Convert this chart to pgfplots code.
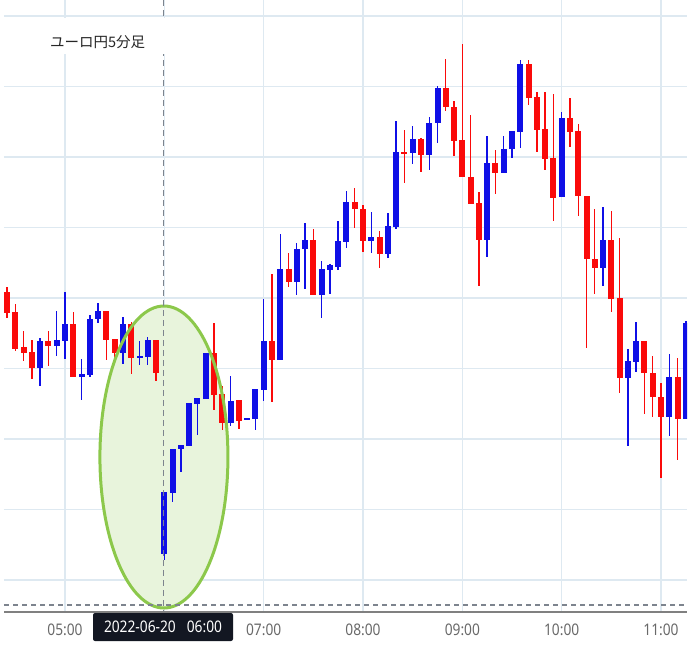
\documentclass[border=0pt]{standalone}
\usepackage{pgfplots}
\pgfplotsset{compat=1.18}
\usepackage{pgfplotstable}
\usepackage{fontspec}
\setmainfont{Noto Sans}
\newfontfamily\jpfont{Noto Sans CJK JP}
\newfontfamily\tickfont[FakeStretch=0.86]{Noto Sans}
\definecolor{cred}{RGB}{250,10,10}
\definecolor{cblue}{RGB}{15,15,230}
\definecolor{gridc}{RGB}{222,233,241}
\definecolor{ellfill}{RGB}{232,244,220}
\definecolor{ellline}{RGB}{140,200,75}
\definecolor{dashc}{RGB}{125,132,142}
\definecolor{axisc}{RGB}{128,128,128}
\definecolor{tickc}{RGB}{105,105,105}
\definecolor{datebg}{RGB}{19,23,34}

% candle index (0 = 05:00, 5-minute steps), values read in picture units (smaller = higher price)
\pgfplotstableread{
x o h l c
-3 368 338 386 341
-1 346 311 356 340
0 341 292 359 324
2 377 359 400 374
3 375 315 377 319
4 319 303 323 311
7 353 317 364 324
9 358 341 365 356
10 357 337 365 340
12 554 492 560 492
13 493 449 502 449
14 449 445 472 445
15 446 403 446 403
16 404 398 435 398
17 399 353 399 353
20 423 376 426 401
22 420 418 420 418
23 419 389 430 389
24 390 299 401 341
26 360 234 360 269
28 282 243 295 249
29 249 223 289 240
31 295 261 318 269
32 270 264 294 265
33 267 221 270 241
34 242 191 248 202
37 241 212 253 237
39 254 213 258 226
40 227 121 229 152
42 153 126 164 139
44 155 117 170 123
45 123 86 143 88
51 240 136 257 163
53 173 136 173 149
54 149 131 158 131
55 132 60 148 64
60 197 112 197 118
65 268 207 286 240
68 378 349 446 361
69 362 322 372 341
73 417 354 436 377
75 419 321 419 323
}\upcandles

\pgfplotstableread{
x o h l c
-7 292 287 318 313
-6 312 304 351 349
-5 347 331 361 353
-4 352 340 379 368
-2 341 331 366 346
1 324 312 377 377
5 311 311 360 340
6 339 339 360 353
8 324 322 374 358
11 340 340 381 373
18 353 323 410 395
19 394 386 430 423
21 400 400 429 421
25 341 274 402 360
27 269 253 287 282
30 240 229 295 295
35 202 188 228 209
36 209 205 252 241
38 237 231 268 254
41 151.5 130 183 153.5
43 139 138 172 155
46 88 59 111 107
47 107 101 156 141
48 140 44 177 177
49 177 115 204 204
50 203 192 286 240
52 163 150 194 173
56 64 60 105 98
57 97 92 152 130
58 129 92 170 159
59 158 94 221 198
61 118 98 147 132
62 131 124 216 196
63 196 196 348 259
64 259 209 294 268
66 240 211 312 299
67 298 238 393 378
70 341 341 414 373
71 373 356 417 397
72 397 383 478 417
74 377 358 460 419
}\downcandles

\begin{document}
\begin{tikzpicture}
\useasboundingbox (0pt,0pt) rectangle (700pt,646pt);
\begin{axis}[
  at={(4pt,34pt)}, anchor=south west,
  scale only axis, width=683pt, height=612pt,
  xmin=-7.37, xmax=75.14, ymin=0, ymax=612,
  y dir=reverse,
  axis line style={draw=none},
  xtick={0,12,24,36,48,60,72},
  xticklabels={05:00,{},07:00,08:00,09:00,10:00,11:00},
  ytick={16,86.5,157,227.5,298,368.5,439,509.5,580},
  yticklabel=\empty,
  major tick length=0pt,
  grid=major,
  major grid style={gridc, line width=1.1pt},
  xticklabel style={font=\tickfont\fontsize{16}{16}\selectfont, text=tickc, anchor=center, yshift=-18pt},
]
\fill[ellfill] (axis cs:11.95,457) ellipse [x radius=64pt, y radius=151pt];
% wicks
\addplot[draw=none, mark=none, forget plot,
  error bars/.cd, y dir=both, y explicit, error mark=none,
  error bar style={draw=cred, line width=1.4pt}]
  table[x=x, y expr={(\thisrow{h}+\thisrow{l})/2}, y error expr={(\thisrow{l}-\thisrow{h})/2}] {\downcandles};
\addplot[draw=none, mark=none, forget plot,
  error bars/.cd, y dir=both, y explicit, error mark=none,
  error bar style={draw=cblue, line width=1.4pt}]
  table[x=x, y expr={(\thisrow{h}+\thisrow{l})/2}, y error expr={(\thisrow{l}-\thisrow{h})/2}] {\upcandles};
% bodies
\addplot[draw=none, mark=none, forget plot,
  error bars/.cd, y dir=both, y explicit, error mark=none,
  error bar style={draw=cred, line width=6pt}]
  table[x=x, y expr={(\thisrow{o}+\thisrow{c})/2}, y error expr={abs(\thisrow{c}-\thisrow{o})/2}] {\downcandles};
\addplot[draw=none, mark=none, forget plot,
  error bars/.cd, y dir=both, y explicit, error mark=none,
  error bar style={draw=cblue, line width=6pt}]
  table[x=x, y expr={(\thisrow{o}+\thisrow{c})/2}, y error expr={abs(\thisrow{c}-\thisrow{o})/2}] {\upcandles};
\draw[ellline, line width=3pt] (axis cs:11.95,457) ellipse [x radius=64pt, y radius=151pt];
\draw[dashc, line width=1.2pt, dash pattern=on 6pt off 4pt] (axis cs:11.9,0) -- (axis cs:11.9,612);
\draw[dashc, line width=1.2pt, dash pattern=on 5pt off 4pt] (axis cs:-7.37,605) -- (axis cs:75.14,605);
\end{axis}
\draw[axisc, line width=2pt] (4pt,34pt) -- (687pt,34pt);
\fill[white] (42pt,592pt) rectangle (172pt,628pt);
\node[anchor=west, inner sep=0pt, text=black!85] at (50pt,604pt) {\jpfont\fontsize{14.5}{15}\selectfont ユーロ円5分足};
\node[fill=datebg, rounded corners=2pt, minimum width=140pt, minimum height=28pt, inner sep=0pt, text=white] at (163pt,19pt)
  {\tickfont\bfseries\fontsize{16}{16}\selectfont 2022-06-20\hspace{11pt}06:00};
\end{tikzpicture}
\end{document}
